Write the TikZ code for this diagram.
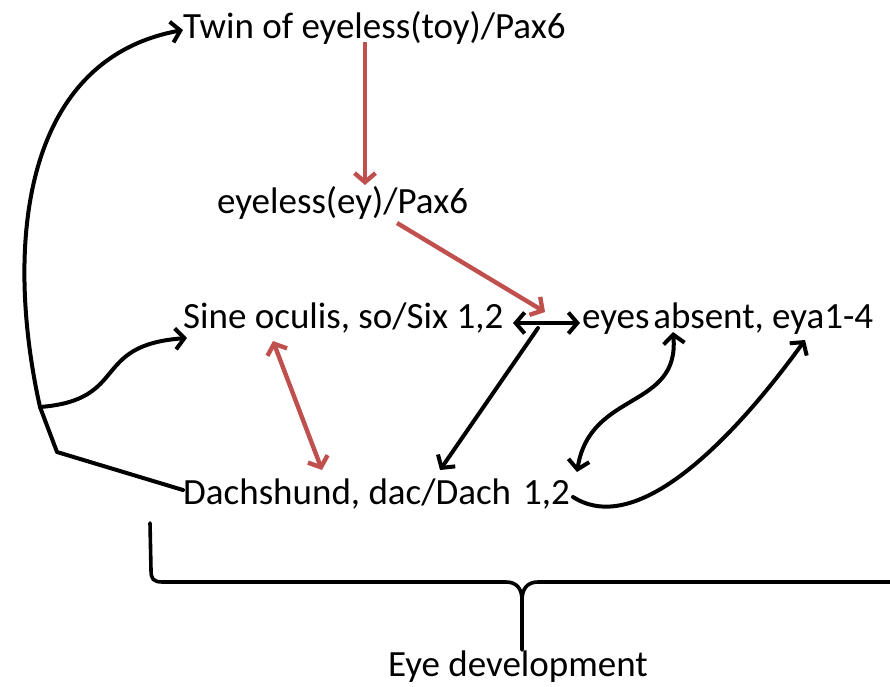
\documentclass[tikz,border=0pt]{standalone}
\usepackage{fontspec}
\setmainfont{Carlito}
\usetikzlibrary{arrows.meta,calc}
\definecolor{arrowred}{RGB}{192,80,77}
\tikzset{
  gene/.style={anchor=base west,inner sep=0pt,font=\fontsize{37}{40}\selectfont},
  blk/.style={draw=black,line width=4pt,line cap=round,line join=round},
  redlink/.style={draw=arrowred,line width=4.4pt,line join=round},
  tip/.style={-{Straight Barb[length=9pt,width=21pt]}},
  tips/.style={{Straight Barb[length=9pt,width=21pt]}-{Straight Barb[length=9pt,width=21pt]}}
}
\begin{document}
\begin{tikzpicture}[x=1pt,y=-1pt]
\useasboundingbox (0,0) rectangle (890,686);

% gene labels
\node[gene] (twin) at (183,38) {Twin of eyeless(toy)/Pax6};
\node[gene] (ey)   at (217,213) {eyeless(ey)/Pax6};
\node[gene] (sine) at (183,328) {Sine oculis, so/Six 1,2};
\node[gene] (eya)  at (582,328) {eyes\hspace{0.1em}absent, eya1-4};
\node[gene] (dach) at (183,504) {Dachshund, dac/Dach\hspace{0.32em}1,2};
\node[gene] (dev)  at (388,676) {Eye development};

% branching stem on the left
\coordinate (junc) at (40,407);
\coordinate (bend) at (57,452);
\draw[blk,tip] (junc) .. controls (5,250) and (20,60) .. ($(twin.base west)+(0,-8)$);
\draw[blk,tip] (junc) .. controls (130,400) and (90,345) .. ($(sine.base west)+(4,10)$);
\draw[blk] (junc) -- (bend) -- ($(dach.base west)+(0,-14)$);

% red regulatory arrows
\draw[redlink,tip] ($(twin.base west)+(182,4)$) -- ($(ey.base west)+(148,-28)$);
\draw[redlink,tip] ($(ey.base west)+(180,10)$) -- ($(eya.base west)+(-37,-16)$);
\draw[redlink,tips] ($(sine.base west)+(90,13)$) -- ($(dach.base west)+(139,-34)$);

% black interactions
\draw[blk,tips] ($(sine.base west)+(330,-5)$) -- ($(eya.base west)+(-2,-5)$);
\draw[blk,tip] ($(eya.base west)+(-44,0)$) -- ($(dach.base west)+(257,-34)$);
\draw[blk,tips] ($(eya.base west)+(91,4)$) .. controls (680,410) and (590,390) .. ($(dach.base west)+(394,-32)$);
\draw[blk,tip] ($(dach.base west)+(390,-7)$) .. controls (640,540) and (740,430) .. ($(eya.base west)+(223,12)$);

% brace gathering the network into eye development
\coordinate (cusp) at (522,600);
\draw[blk,line width=3.6pt] (150,523) -- (151,570) .. controls (151,579) and (153,582) .. (163,582)
  -- (506,582) .. controls (516,582) and (522,588) .. (cusp) -- ($(dev.base west)+(134,-26)$);
\draw[blk,line width=3.6pt] (895,582) -- (538,582) .. controls (528,582) and (522,588) .. (cusp);
\end{tikzpicture}
\end{document}
